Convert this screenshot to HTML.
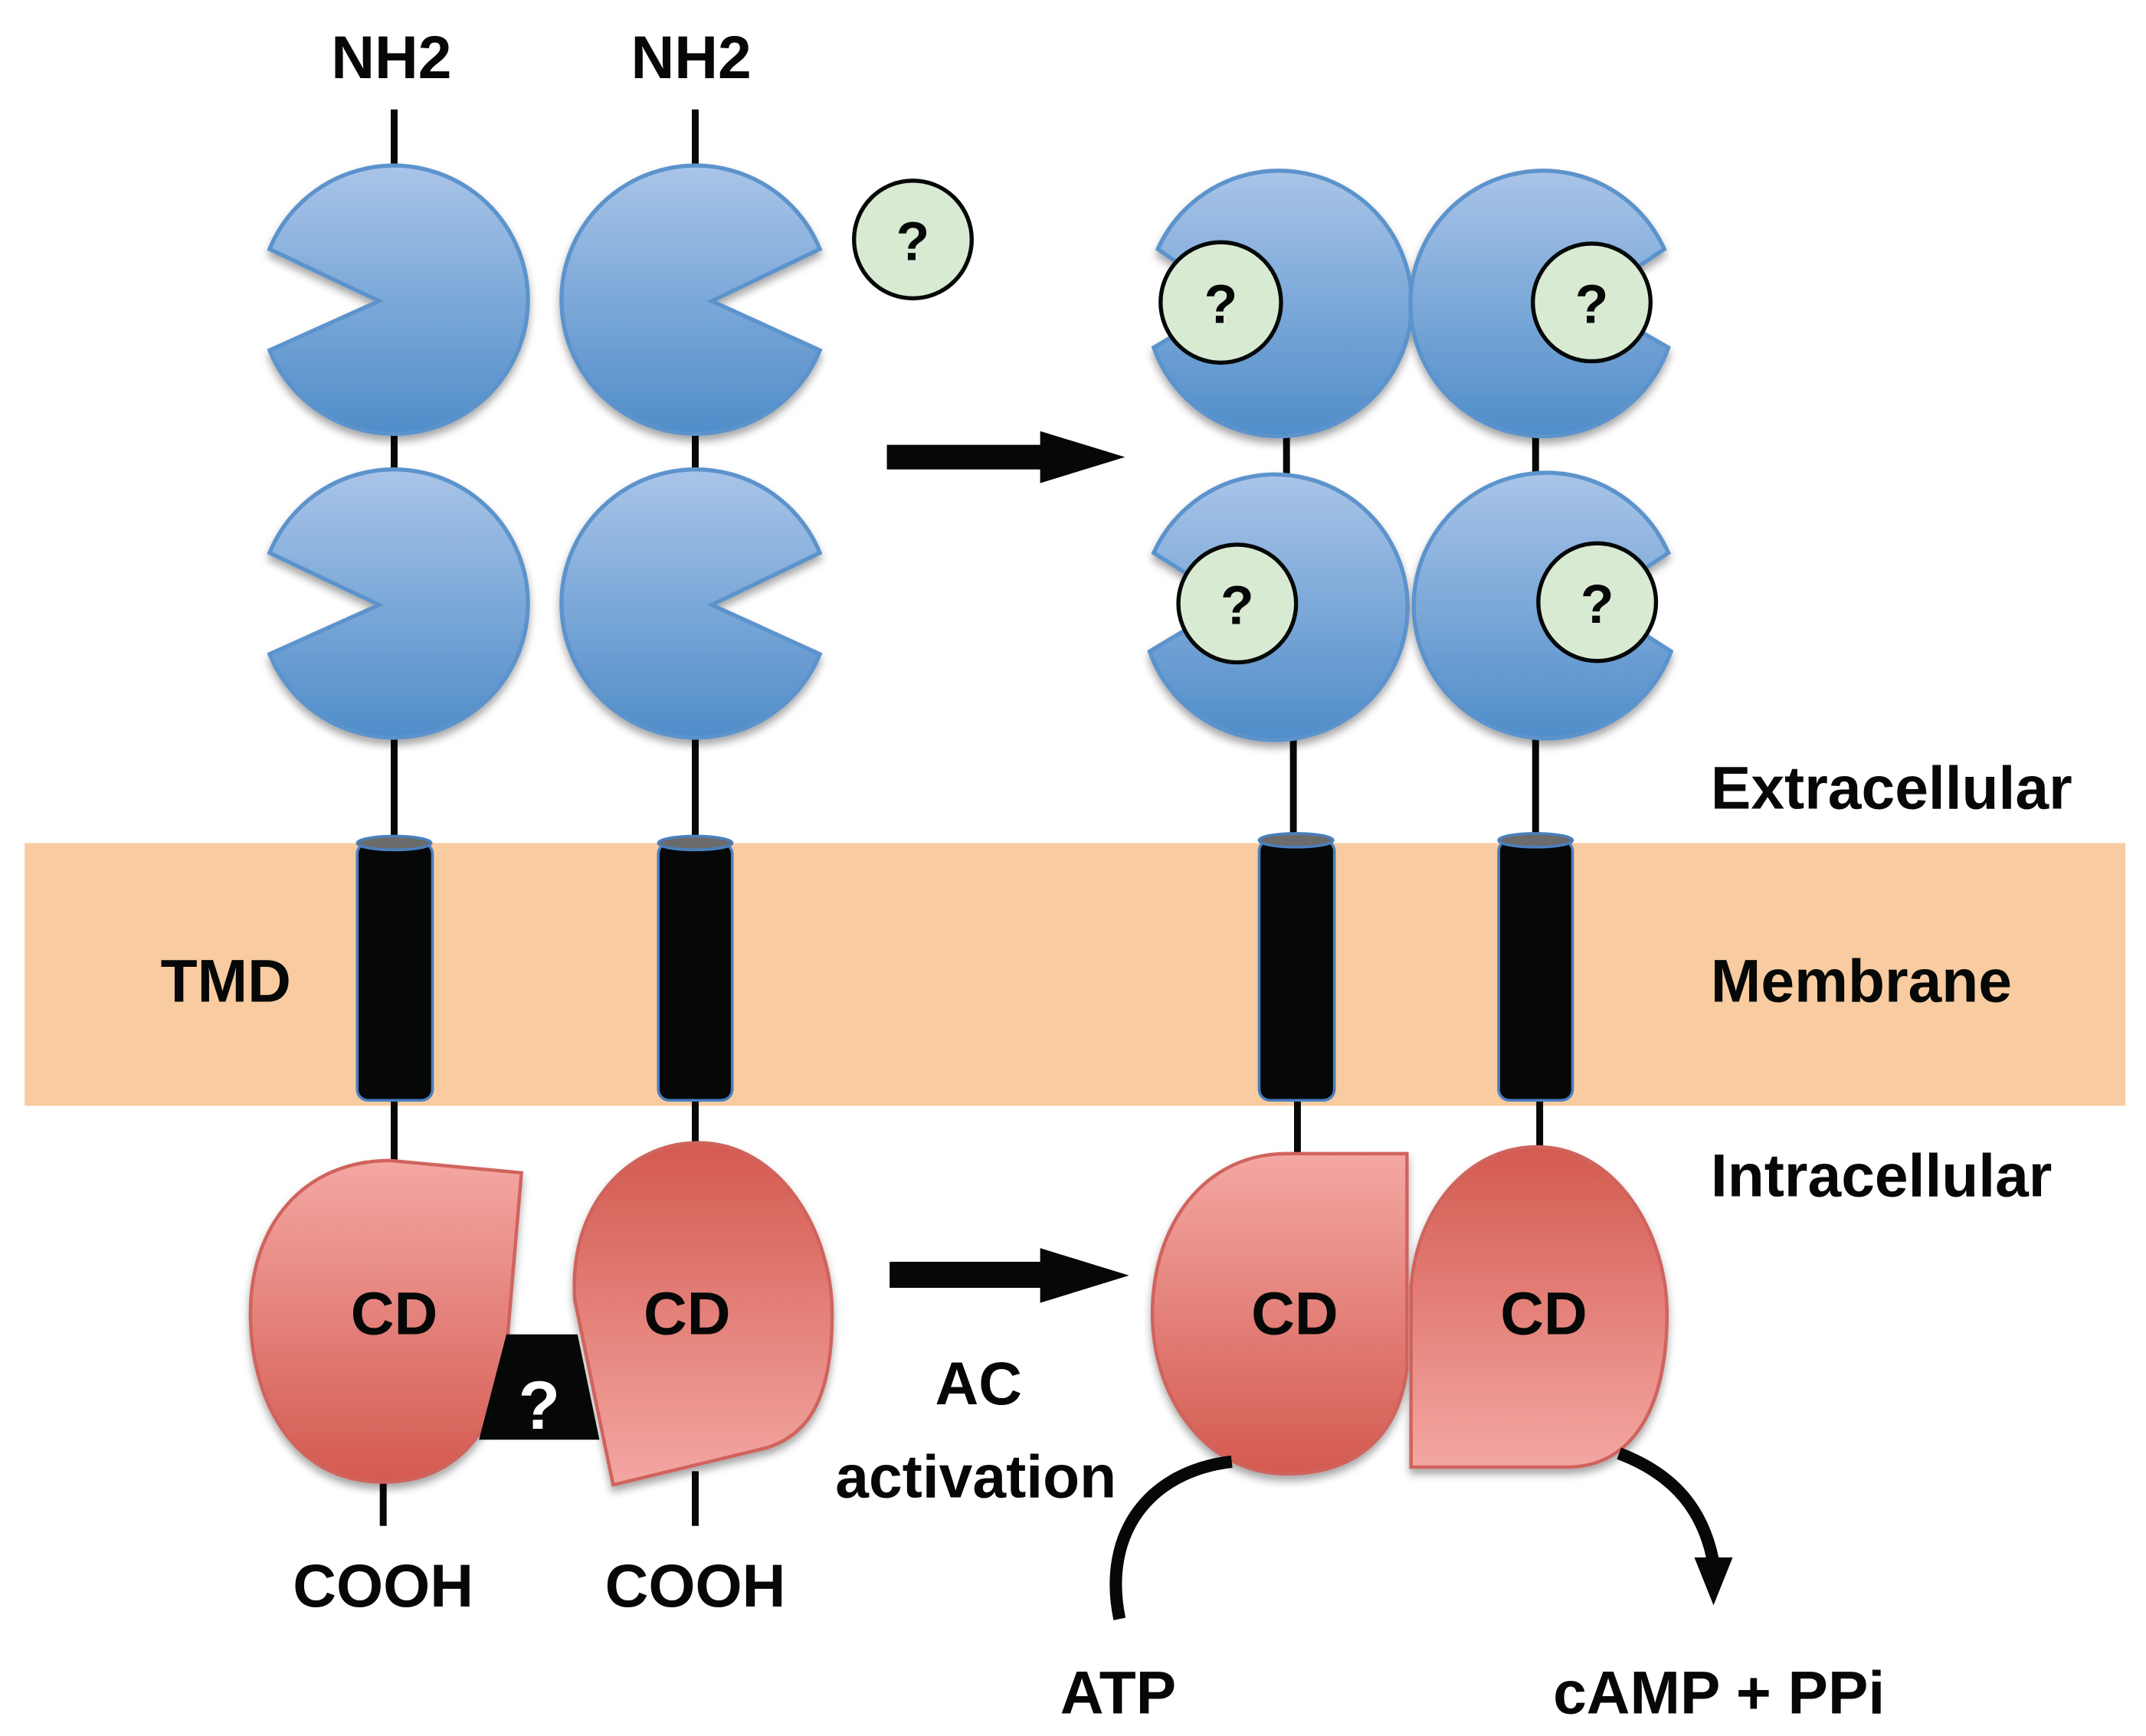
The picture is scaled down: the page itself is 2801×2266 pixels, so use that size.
<!DOCTYPE html>
<html><head><style>html,body{margin:0;padding:0;background:#fff}svg{display:block}</style></head>
<body>
<svg width="2801" height="2266" viewBox="0 0 1568 1268.5" preserveAspectRatio="none" xmlns="http://www.w3.org/2000/svg" font-family="Liberation Sans, Arial, sans-serif" font-weight="bold">
<defs>
<linearGradient id="bl" x1="0" y1="0" x2="0" y2="1"><stop offset="0" stop-color="#a9c4e8"/><stop offset="1" stop-color="#4f8dc9"/></linearGradient>
<linearGradient id="rd" x1="0" y1="0" x2="0" y2="1"><stop offset="0" stop-color="#d35a50"/><stop offset="1" stop-color="#f4a7a3"/></linearGradient>
<linearGradient id="rl" x1="0" y1="0" x2="0" y2="1"><stop offset="0" stop-color="#f4a7a3"/><stop offset="1" stop-color="#d35a50"/></linearGradient>
<filter id="sh" x="-20%" y="-20%" width="140%" height="140%"><feDropShadow dx="0" dy="4" stdDeviation="3" flood-color="#000" flood-opacity="0.35"/></filter>
</defs>
<rect x="18" y="616" width="1535" height="192" fill="#f8cba0"/>
<g stroke="#050807" stroke-width="5">
<line x1="288" y1="80" x2="288" y2="125"/><line x1="288" y1="310" x2="288" y2="350"/><line x1="288" y1="530" x2="288" y2="620"/>
<line x1="508" y1="80" x2="508" y2="125"/><line x1="508" y1="310" x2="508" y2="350"/><line x1="508" y1="530" x2="508" y2="620"/>
<line x1="940" y1="300" x2="940" y2="350"/><line x1="945" y1="530" x2="945" y2="615"/>
<line x1="1122" y1="300" x2="1122" y2="350"/><line x1="1122" y1="530" x2="1122" y2="615"/>
<line x1="288" y1="800" x2="288" y2="850"/><line x1="280" y1="1075" x2="280" y2="1115"/>
<line x1="508" y1="800" x2="508" y2="840"/><line x1="508" y1="1075" x2="508" y2="1115"/>
<line x1="948" y1="800" x2="948" y2="848"/><line x1="1125" y1="800" x2="1125" y2="842"/>
</g>
<g fill="url(#bl)" stroke="#5b93cc" stroke-width="3" filter="url(#sh)">
<path d="M197,182 A98,98 0 1 1 197,256 L277,220 Z"/>
<path d="M197,404 A98,98 0 1 1 197,478 L277,442 Z"/>
<path d="M599,182 A98,98 0 1 0 599,256 L520,220 Z"/>
<path d="M599,404 A98,98 0 1 0 599,478 L520,442 Z"/>
<path d="M846,182 A97,97 0 1 1 843,254 L900,220 Z"/>
<path d="M1216,182 A97,97 0 1 0 1219,254 L1160,220 Z"/>
<path d="M843,404 A97,97 0 1 1 840,476 L900,440 Z"/>
<path d="M1219,404 A97,97 0 1 0 1221,476 L1165,440 Z"/>
</g>
<g fill="#d9ead3" stroke="#050807" stroke-width="3">
<circle cx="667" cy="175" r="43"/><circle cx="892" cy="221" r="44"/><circle cx="1163" cy="221" r="43"/>
<circle cx="904" cy="441" r="43"/><circle cx="1167" cy="440" r="43"/>
</g>
<g font-size="40" text-anchor="middle" fill="#050807">
<text x="667" y="190">?</text><text x="892" y="236">?</text><text x="1163" y="236">?</text><text x="904" y="456">?</text><text x="1167" y="455">?</text>
</g>
<g fill="#050807" stroke="#4a7fc0" stroke-width="2">
<rect x="261" y="616" width="55" height="188" rx="8"/><rect x="481" y="616" width="54" height="188" rx="8"/>
<rect x="920" y="614" width="55" height="190" rx="8"/><rect x="1095" y="614" width="54" height="190" rx="8"/>
</g>
<g fill="#6b6b6b" stroke="#4a7fc0" stroke-width="2">
<ellipse cx="288" cy="616" rx="27" ry="5"/><ellipse cx="508" cy="616" rx="27" ry="5"/>
<ellipse cx="947" cy="614" rx="27" ry="5"/><ellipse cx="1122" cy="614" rx="27" ry="5"/>
</g>
<g stroke="#d0645c" stroke-width="2.5" filter="url(#sh)">
<path fill="url(#rl)" d="M285,848 L381,857 L368,1010 Q345,1083 280,1083 C212,1083 183,1020 183,960 C183,895 222,848 285,848 Z"/>
<path fill="url(#rd)" d="M448,1085 L420,950 C415,880 460,835 510,835 C570,835 608,900 608,960 C608,1020 592,1048 560,1058 Z"/>
<path fill="url(#rl)" d="M1028,843 L1028,1000 C1022,1050 990,1077 940,1077 C880,1077 842,1020 842,960 C842,895 880,843 940,843 Z"/>
<path fill="url(#rd)" d="M1031,1072 L1031,940 C1036,880 1075,838 1123,838 C1180,838 1218,900 1218,960 C1218,1030 1192,1072 1145,1072 Z"/>
</g>
<path d="M370,975 L422,975 L438,1052 L350,1052 Z" fill="#050807"/>
<text x="394" y="1044" font-size="50" fill="#fff" text-anchor="middle">?</text>
<g fill="#050807">
<path d="M648,325 L760,325 L760,315 L822,334 L760,353 L760,343 L648,343 Z"/>
<path d="M650,922 L760,922 L760,912 L825,932 L760,952 L760,941 L650,941 Z"/>
<path d="M1238,1138 L1266,1138 L1252,1173 Z"/>
</g>
<g fill="none" stroke="#050807" stroke-width="9">
<path d="M818,1183 C805,1120 840,1075 900,1068"/>
<path d="M1183,1062 C1225,1078 1245,1105 1252,1142"/>
</g>
<g font-size="44" fill="#050807" text-anchor="middle">
<text x="286" y="57">NH2</text><text x="505" y="57">NH2</text>
<text x="280" y="1174">COOH</text><text x="508" y="1174">COOH</text>
<text x="165" y="732">TMD</text>
<text x="288" y="975">CD</text><text x="502" y="975">CD</text><text x="946" y="975">CD</text><text x="1128" y="975">CD</text>
<text x="715" y="1026">AC</text><text x="713" y="1094">activation</text>
<text x="817" y="1252">ATP</text><text x="1256" y="1252">cAMP + PPi</text>
</g>
<g font-size="44" fill="#050807">
<text x="1250" y="591">Extracellular</text><text x="1250" y="732">Membrane</text><text x="1250" y="874">Intracellular</text>
</g>
</svg>
</body></html>
